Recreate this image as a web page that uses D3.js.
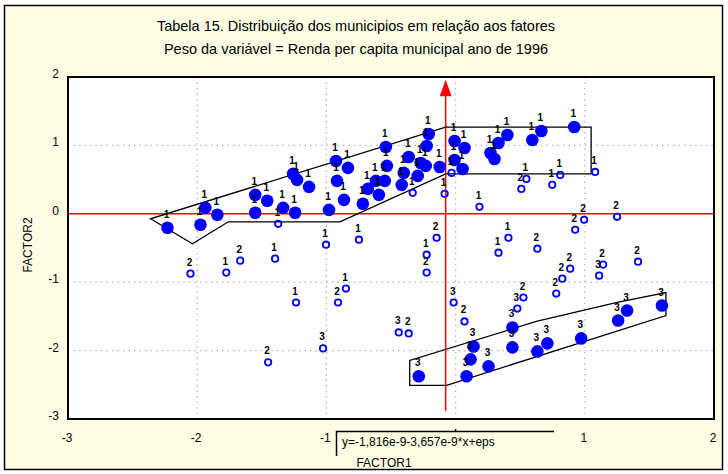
<!DOCTYPE html>
<html>
<head>
<meta charset="utf-8">
<script src="https://cdn.jsdelivr.net/npm/d3@7"></script>
<style>
  body { margin: 0; background: #fff; }
  text { font-family: "Liberation Sans", Arial, sans-serif; }
</style>
</head>
<body>
<svg id="chart" width="728" height="474"></svg>
<script>
const titleLines = [
    "Tabela 15. Distribuição dos municipios em relação aos fatores",
    "Peso da variável = Renda per capita municipal ano de 1996"
];
const xTicks = [-3, -2, -1, 1, 2];   // the 0 sits under the fit box
const yTicks = [-3, -2, -1, 0, 1, 2];
const gridX = [-2, -1, 0, 1];
const gridY = [-2, -1, 1];

// filled points, cluster 1 (upper band)
const group1X = [-2.230, -1.975, -1.937, -1.844, -1.551, -1.458, -1.551, -1.335, -1.242, -1.258, -1.227,
    -1.134, -0.980, -0.926, -0.918, -0.833, -0.864, -0.718, -0.679, -0.594, -0.617, -0.548, -0.540,
    -0.532, -0.417, -0.401, -0.363, -0.293, -0.270, -0.231, -0.224, -0.208, -0.123, -0.008, 0.069,
    -0.008, 0.054, 0.401, 0.332, 0.270, 0.301, 0.594, 0.664, 0.918];
const group1Y = [-0.204, -0.160, 0.087, -0.015, 0.277, 0.190, 0.015, 0.087, 0.015, 0.583, 0.496,
    0.394, 0.058, 0.773, 0.481, 0.671, 0.204, 0.146, 0.364, 0.277, 0.481, 0.481, 0.977,
    0.700, 0.423, 0.598, 0.831, 0.554, 0.743, 0.700, 0.991, 1.166, 0.685, 1.064, 0.962,
    0.787, 0.656, 1.152, 1.035, 0.889, 0.802, 1.079, 1.210, 1.268];

// filled points, cluster 3 (lower band)
const group3X = [-0.285, 0.139, 0.116, 0.085, 0.255, 0.440, 0.440, 0.633, 0.710, 0.972, 1.258, 1.327, 1.597];
const group3Y = [-2.376, -1.939, -2.128, -2.376, -2.230, -1.662, -1.953, -2.012, -1.895, -1.822, -1.560, -1.414, -1.341];

// open points with their cluster label
const openX = [-1.373, -0.332, -0.085, -0.031, 0.548, 0.509, 0.748, 0.810, 1.080, 0.185, -1.775, -1.397,
    -1.235, -1.003, -0.748, -0.224, -0.849, 0.409, 0.332,
    -2.052, -1.667, -1.451, -0.147, -0.224, -0.910, -0.363, 0.069, 0.995, 0.926, 1.250, 0.633,
    0.887, 0.826, 1.142, 1.412, 0.779, 0.525,
    -1.026, -0.440, -0.015, 1.111, 0.478];
const openY = [-0.146, 0.306, 0.292, 0.598, 0.510, 0.364, 0.423, 0.569, 0.612, 0.102, -0.860, -0.656,
    -1.297, -0.452, -0.379, -0.598, -1.093, -0.350, -0.569,
    -0.875, -0.685, -2.172, -0.350, -0.860, -1.297, -1.749, -1.574, -0.087, -0.233, -0.044, -0.510,
    -0.802, -0.948, -0.743, -0.700, -1.166, -1.224,
    -1.968, -1.735, -1.297, -0.904, -1.385];
const openLabel = ["1", "1", "1", "1", "1", "2", "1", "1", "1", "1", "1", "1",
    "1", "1", "1", "1", "1", "1", "1",
    "2", "2", "2", "2", "2", "2", "2", "2", "2", "2", "2", "2",
    "2", "2", "2", "2", "2", "2",
    "3", "3", "3", "3", "3"];

// lasso outlines round the two clusters
const poly1X = [-2.361, -2.037, -1.759, -0.895, -0.077, 1.049, 1.049, -0.077];
const poly1Y = [-0.073, -0.437, -0.117, -0.117, 0.583, 0.583, 1.268, 1.268];
const poly3X = [-0.355, -0.355, -0.069, 1.628, 1.628, 1.242, 0.625];
const poly3Y = [-2.143, -2.507, -2.507, -1.487, -1.152, -1.297, -1.574];

const axisX = -0.077;   // red vertical axis
const fitText = "y=-1,816e-9-3,657e-9*x+eps";

const svg = d3.select("#chart");
const cream = "#fffee4";

const x = d3.scaleLinear().domain([-3, 2]).range([68, 714]);
const y = d3.scaleLinear().domain([-3, 2]).range([419, 77]);

// background + outer frame
svg.append("rect")
    .attr("x", 4.5).attr("y", 5.5)
    .attr("width", 718).attr("height", 464)
    .attr("fill", cream)
    .attr("stroke", "#000")
    .attr("stroke-width", 1.5);

svg.selectAll(".title")
    .data(titleLines)
    .enter()
    .append("text")
    .attr("class", "title")
    .attr("x", 356)
    .attr("y", (d, i) => 31 + i * 23)
    .attr("text-anchor", "middle")
    .attr("font-size", 14.5)
    .attr("fill", "#000")
    .text(d => d);

// plot area
svg.append("rect")
    .attr("x", x(-3)).attr("y", y(2))
    .attr("width", x(2) - x(-3)).attr("height", y(-3) - y(2))
    .attr("fill", "#fff");

const grid = svg.append("g")
    .attr("stroke", "#b4b4b4")
    .attr("stroke-width", 1.2)
    .attr("stroke-dasharray", "1.5,4");
grid.selectAll(".gx")
    .data(gridX)
    .enter()
    .append("line")
    .attr("x1", d => x(d)).attr("x2", d => x(d))
    .attr("y1", y(2)).attr("y2", y(-3));
grid.selectAll(".gy")
    .data(gridY)
    .enter()
    .append("line")
    .attr("x1", x(-3)).attr("x2", x(2))
    .attr("y1", d => y(d)).attr("y2", d => y(d));

// red cross
svg.append("line")
    .attr("x1", x(-3)).attr("x2", x(2))
    .attr("y1", y(0)).attr("y2", y(0))
    .attr("stroke", "#ff0000")
    .attr("stroke-width", 1.5);
svg.append("line")
    .attr("x1", x(axisX)).attr("x2", x(axisX))
    .attr("y1", y(-2.88)).attr("y2", y(1.8))
    .attr("stroke", "#ff0000")
    .attr("stroke-width", 1.5);
svg.append("path")
    .attr("d", `M${x(axisX)},${y(1.96)} L${x(axisX) - 6},${y(1.72)} L${x(axisX) + 6},${y(1.72)} Z`)
    .attr("fill", "#ff0000");

// cluster outlines
const polyLine = d3.line().x(d => x(d[0])).y(d => y(d[1])).curve(d3.curveLinearClosed);
[[poly1X, poly1Y], [poly3X, poly3Y]].forEach(p => {
    svg.append("path")
        .attr("d", polyLine(p[0].map((v, i) => [v, p[1][i]])))
        .attr("fill", "none")
        .attr("stroke", "#000")
        .attr("stroke-width", 1.3);
});

const blue = "#0000ff";

const openPts = openX.map((v, i) => ({x: v, y: openY[i], label: openLabel[i]}));
const filledPts = group1X.map((v, i) => ({x: v, y: group1Y[i], label: "1"}))
    .concat(group3X.map((v, i) => ({x: v, y: group3Y[i], label: "3"})));

svg.selectAll(".open")
    .data(openPts)
    .enter()
    .append("circle")
    .attr("cx", d => x(d.x))
    .attr("cy", d => y(d.y))
    .attr("r", 3.2)
    .attr("fill", "none")
    .attr("stroke", blue)
    .attr("stroke-width", 1.8);

svg.selectAll(".filled")
    .data(filledPts)
    .enter()
    .append("circle")
    .attr("cx", d => x(d.x))
    .attr("cy", d => y(d.y))
    .attr("r", 6.3)
    .attr("fill", blue);

svg.selectAll(".ptLabel")
    .data(openPts.map(d => ({...d, off: 8})).concat(filledPts.map(d => ({...d, off: 10}))))
    .enter()
    .append("text")
    .attr("x", d => x(d.x) - 1)
    .attr("y", d => y(d.y) - d.off)
    .attr("text-anchor", "middle")
    .attr("font-size", 10)
    .attr("font-weight", "bold")
    .attr("fill", "#000")
    .text(d => d.label);

// plot frame
svg.append("rect")
    .attr("x", x(-3)).attr("y", y(2))
    .attr("width", x(2) - x(-3)).attr("height", y(-3) - y(2))
    .attr("fill", "none")
    .attr("stroke", "#000")
    .attr("stroke-width", 2);

// tick labels
svg.selectAll(".xt")
    .data(xTicks)
    .enter()
    .append("text")
    .attr("x", d => x(d) - 1)
    .attr("y", 442)
    .attr("text-anchor", "middle")
    .attr("font-size", 12)
    .text(d => d);
svg.selectAll(".yt")
    .data(yTicks)
    .enter()
    .append("text")
    .attr("x", 59)
    .attr("y", d => y(d) + 1)
    .attr("text-anchor", "end")
    .attr("font-size", 12)
    .text(d => d);

// small tick under x = 0, the rest of its label is hidden by the box
svg.append("line")
    .attr("x1", x(0)).attr("x2", x(0))
    .attr("y1", 429).attr("y2", 431)
    .attr("stroke", "#000")
    .attr("stroke-width", 1.5);

// fitted line box
svg.append("path")
    .attr("d", "M336.5,456 L336.5,431.5 L554,431.5")
    .attr("fill", "none")
    .attr("stroke", "#000")
    .attr("stroke-width", 1.5);
svg.append("text")
    .attr("x", 342).attr("y", 446)
    .attr("font-size", 12)
    .text(fitText);

svg.append("text")
    .attr("x", 384).attr("y", 467)
    .attr("text-anchor", "middle")
    .attr("font-size", 12)
    .text("FACTOR1");
svg.append("text")
    .attr("transform", "translate(32,245) rotate(-90)")
    .attr("text-anchor", "middle")
    .attr("font-size", 12)
    .text("FACTOR2");
</script>
</body>
</html>
